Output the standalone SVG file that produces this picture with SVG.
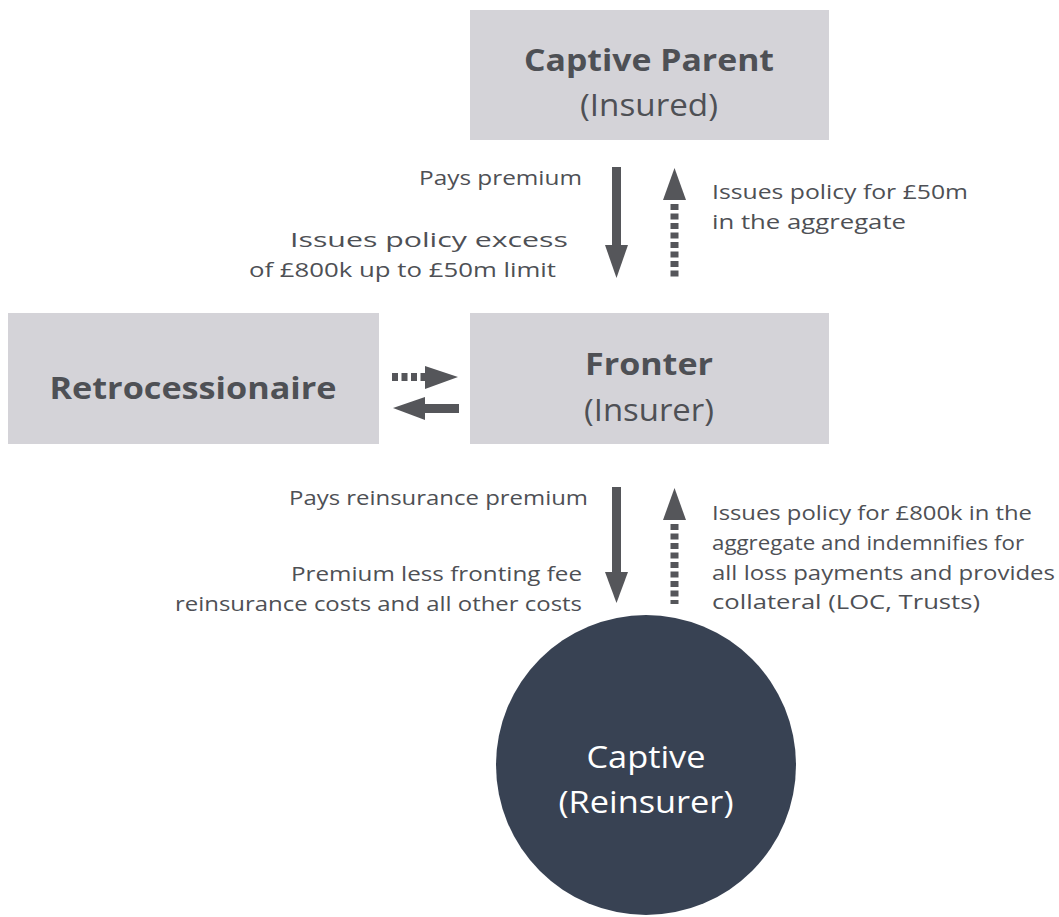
<svg xmlns="http://www.w3.org/2000/svg" width="1059" height="917" viewBox="0 0 1059 917">
<style>
.box{fill:#d4d3d8}
.t{font-family:"Open Sans","Liberation Sans",sans-serif;fill:#4e5055}
.lab{font-size:20.5px}
.big{font-size:31px}
.b{font-weight:bold}
.w{fill:#ffffff}
.arr{fill:#55565a}
</style>
<rect width="1059" height="917" fill="#ffffff"/>
<g id="captive-parent">
<rect class="box" x="470" y="10" width="359" height="130"/>
<text class="t big b" x="649" y="71" text-anchor="middle" textLength="250" lengthAdjust="spacingAndGlyphs">Captive Parent</text>
<text class="t big" x="649" y="116" text-anchor="middle" textLength="138" lengthAdjust="spacingAndGlyphs">(Insured)</text>
</g>
<g id="fronter">
<rect class="box" x="470" y="313" width="359" height="131"/>
<text class="t big b" x="649" y="375" text-anchor="middle" textLength="128" lengthAdjust="spacingAndGlyphs">Fronter</text>
<text class="t big" x="649" y="421" text-anchor="middle" textLength="130" lengthAdjust="spacingAndGlyphs">(Insurer)</text>
</g>
<g id="retrocessionaire">
<rect class="box" x="8" y="313" width="371" height="131"/>
<text class="t big b" x="193" y="399" text-anchor="middle" textLength="287" lengthAdjust="spacingAndGlyphs">Retrocessionaire</text>
</g>
<g id="captive">
<circle cx="646" cy="765" r="150" fill="#384253"/>
<text class="t big w" x="646" y="768" text-anchor="middle" textLength="119" lengthAdjust="spacingAndGlyphs">Captive</text>
<text class="t big w" x="646" y="813" text-anchor="middle" textLength="175" lengthAdjust="spacingAndGlyphs">(Reinsurer)</text>
</g>
<g id="connectors">
<rect class="arr" x="612" y="167" width="9" height="79"/>
<polygon class="arr" points="605,245 628,245 616.5,278"/>
<polygon class="arr" points="663,200 686,200 674.5,168"/>
<path d="M674.5,204 V280" stroke="#55565a" stroke-width="8" stroke-dasharray="6,3.5" fill="none"/>
<polygon class="arr" points="393,408 425,397 425,420"/>
<rect class="arr" x="424" y="404" width="35" height="9"/>
<path d="M392,377 H425" stroke="#55565a" stroke-width="8" stroke-dasharray="6,3.5" fill="none"/>
<polygon class="arr" points="425,366 425,389 458,377"/>
<rect class="arr" x="612" y="487" width="9" height="86"/>
<polygon class="arr" points="605,572 628,572 616.5,603"/>
<polygon class="arr" points="663,520 686,520 674.5,488"/>
<path d="M674.5,524 V604" stroke="#55565a" stroke-width="8" stroke-dasharray="6,3.5" fill="none"/>
</g>
<g id="labels">
<text class="t lab" x="582" y="185" text-anchor="end" textLength="163" lengthAdjust="spacingAndGlyphs">Pays premium</text>
<text class="t lab" x="568" y="247" text-anchor="end" textLength="278" lengthAdjust="spacingAndGlyphs">Issues policy excess</text>
<text class="t lab" x="556" y="277" text-anchor="end" textLength="307" lengthAdjust="spacingAndGlyphs">of £800k up to £50m limit</text>
<text class="t lab" x="712" y="199" textLength="256" lengthAdjust="spacingAndGlyphs">Issues policy for £50m</text>
<text class="t lab" x="712" y="229" textLength="194" lengthAdjust="spacingAndGlyphs">in the aggregate</text>
<text class="t lab" x="588" y="505" text-anchor="end" textLength="299" lengthAdjust="spacingAndGlyphs">Pays reinsurance premium</text>
<text class="t lab" x="582" y="581" text-anchor="end" textLength="291" lengthAdjust="spacingAndGlyphs">Premium less fronting fee</text>
<text class="t lab" x="582" y="611" text-anchor="end" textLength="407" lengthAdjust="spacingAndGlyphs">reinsurance costs and all other costs</text>
<text class="t lab" x="712" y="520" textLength="320" lengthAdjust="spacingAndGlyphs">Issues policy for £800k in the</text>
<text class="t lab" x="712" y="550" textLength="312" lengthAdjust="spacingAndGlyphs">aggregate and indemnifies for</text>
<text class="t lab" x="712" y="580" textLength="343" lengthAdjust="spacingAndGlyphs">all loss payments and provides</text>
<text class="t lab" x="712" y="609" textLength="268" lengthAdjust="spacingAndGlyphs">collateral (LOC, Trusts)</text>
</g>
</svg>
